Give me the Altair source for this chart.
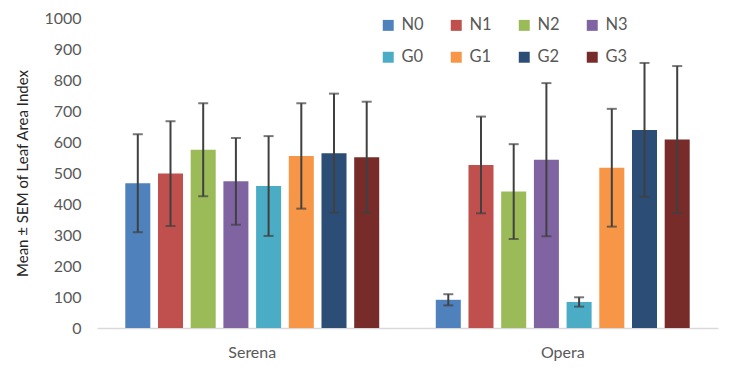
import altair as alt
import pandas as pd

varieties = ["Serena", "Opera"]
treatments = ["N0", "N1", "N2", "N3", "G0", "G1", "G2", "G3"]
colors = ["#4F81BD", "#C0504D", "#9BBB59", "#8064A2", "#4BACC6", "#F79646", "#2C4D75", "#772C2A"]
serena_mean = [467, 498, 575, 473, 458, 555, 564, 551]
serena_sem = [158, 169, 150, 140, 161, 170, 192, 179]
opera_mean = [91, 526, 440, 543, 84, 517, 639, 608]
opera_sem = [18, 156, 153, 247, 15, 190, 216, 237]
y_ticks = [0, 100, 200, 300, 400, 500, 600, 700, 800, 900, 1000]

rows = []
for v, means, sems in [("Serena", serena_mean, serena_sem), ("Opera", opera_mean, opera_sem)]:
    for t, m, s in zip(treatments, means, sems):
        rows.append({"variety": v, "treatment": t, "mean": m, "sem": s})
df = pd.DataFrame(rows)

FONT = "Lato"
GREY = "#595959"
Y_TITLE = "Mean ± SEM of Leaf Area Index"

base = alt.Chart(df).transform_calculate(
    lo="datum.mean - datum.sem", hi="datum.mean + datum.sem"
)

y_scale = alt.Scale(domain=[0, 1000], nice=False)
x_axis = alt.Axis(labelAngle=0, ticks=False, domainColor="#D9D9D9", domainWidth=1.5,
                  labelPadding=16, labelFont=FONT, labelFontSize=16, labelColor=GREY)
y_axis = alt.Axis(values=y_ticks, tickCount=11, format="d", labelOverlap=False, grid=False,
                  domain=False, ticks=False, labelPadding=16, titlePadding=13,
                  labelFont=FONT, labelFontSize=16, labelColor=GREY,
                  titleFont=FONT, titleFontSize=15, titleColor="#262626",
                  titleFontWeight="normal")

x_enc = alt.X("variety:N", sort=varieties, title=None,
              scale=alt.Scale(paddingInner=0, paddingOuter=0), axis=x_axis)
xo_enc = alt.XOffset("treatment:N", sort=treatments,
                     scale=alt.Scale(paddingInner=0.235, paddingOuter=0.865))

bars = base.mark_bar().encode(
    x=x_enc,
    xOffset=xo_enc,
    y=alt.Y("mean:Q", title=Y_TITLE, scale=y_scale, axis=y_axis),
    color=alt.Color("treatment:N", sort=treatments,
                    scale=alt.Scale(domain=treatments, range=colors),
                    legend=alt.Legend(title=None, orient="none", legendX=283, legendY=-1,
                                      columns=4, direction="horizontal", symbolType="square",
                                      symbolSize=120, symbolStrokeWidth=0, labelFontSize=16.5,
                                      labelFont=FONT, labelColor=GREY, columnPadding=24,
                                      rowPadding=15, labelOffset=5)),
)

rules = base.mark_rule(color="#404040", strokeWidth=2).encode(
    x=x_enc, xOffset=xo_enc,
    y=alt.Y("lo:Q", title=Y_TITLE, scale=y_scale, axis=y_axis), y2="hi:Q",
)
tick_hi = base.mark_tick(color="#404040", thickness=2, size=10, orient="horizontal").encode(
    x=x_enc, xOffset=xo_enc,
    y=alt.Y("hi:Q", title=Y_TITLE, scale=y_scale, axis=y_axis),
)
tick_lo = base.mark_tick(color="#404040", thickness=2, size=10, orient="horizontal").encode(
    x=x_enc, xOffset=xo_enc,
    y=alt.Y("lo:Q", title=Y_TITLE, scale=y_scale, axis=y_axis),
)

chart = alt.layer(bars, rules, tick_hi, tick_lo).properties(
    width=621, height=310,
    autosize=alt.AutoSizeParams(type="none"),
    padding={"left": 89, "top": 10, "right": 12, "bottom": 40},
).configure_view(stroke=None)

chart.save("out.html", embed_options={"renderer": "svg", "actions": False})
